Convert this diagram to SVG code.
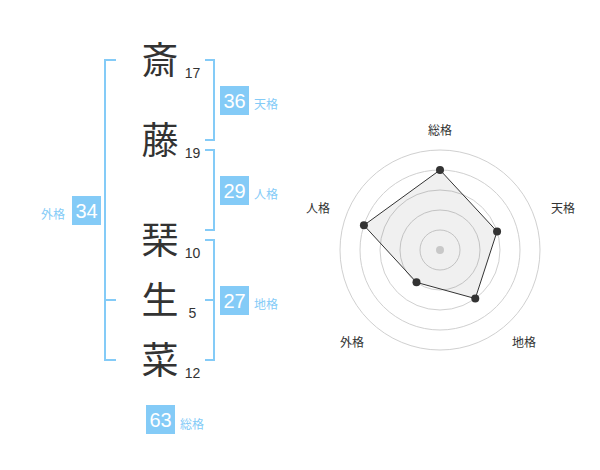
<svg xmlns="http://www.w3.org/2000/svg" width="600" height="470" viewBox="0 0 600 470">
<style>
.ch{font-family:"Noto Sans CJK JP","Noto Sans CJK SC",sans-serif;font-size:37px;fill:#333;text-anchor:middle}
.num{font-family:"Liberation Sans",Arial,sans-serif;font-size:14px;fill:#333;text-anchor:middle}
.box{fill:#84cbf7}
.bn{font-family:"Liberation Sans",Arial,sans-serif;font-size:20px;fill:#fff;text-anchor:middle}
.lb{font-family:"Noto Sans CJK JP","Noto Sans CJK SC",sans-serif;font-size:12px;fill:#84cbf7}
.br{fill:none;stroke:#84cbf7;stroke-width:2}
.rl{font-family:"Noto Sans CJK JP","Noto Sans CJK SC",sans-serif;font-size:12px;fill:#333;text-anchor:middle}
.ring{fill:none;stroke:#d0d0d0;stroke-width:1}
.pt{fill:#333}
</style>
<g id="chars">
<g id="c1"><text class="ch" x="160" y="74">斎</text><text class="num" x="192.5" y="78">17</text></g>
<g id="c2"><text class="ch" x="160" y="154">藤</text><text class="num" x="192.5" y="158">19</text></g>
<g id="c3"><text class="ch" x="160" y="254">琹</text><text class="num" x="192.5" y="258">10</text></g>
<g id="c4"><text class="ch" x="160" y="314">生</text><text class="num" x="192.5" y="318">5</text></g>
<g id="c5"><text class="ch" x="160" y="374">菜</text><text class="num" x="192.5" y="378">12</text></g>
</g>
<g id="connectors">
<path class="br" d="M116,60 H105 V360 H116 M105,300 H116"/>
<path class="br" d="M205,60 H214 V140 H205"/>
<path class="br" d="M205,150 H214 V230 H205"/>
<path class="br" d="M205,240 H214 V360 H205 M205,300 H214"/>
</g>
<g id="gaikaku"><rect class="box" x="72" y="196" width="29" height="29"/><text class="bn" x="86.5" y="217.5">34</text><text class="lb" x="41" y="218.5">外格</text></g>
<g id="tenkaku"><rect class="box" x="220" y="86" width="29" height="29"/><text class="bn" x="234.5" y="107.5">36</text><text class="lb" x="254" y="108.5">天格</text></g>
<g id="jinkaku"><rect class="box" x="220" y="176" width="29" height="29"/><text class="bn" x="234.5" y="197.5">29</text><text class="lb" x="254" y="198.5">人格</text></g>
<g id="chikaku"><rect class="box" x="220" y="286" width="29" height="29"/><text class="bn" x="234.5" y="307.5">27</text><text class="lb" x="254" y="308.5">地格</text></g>
<g id="soukaku"><rect class="box" x="146" y="405" width="29" height="29"/><text class="bn" x="160.5" y="426.5">63</text><text class="lb" x="180" y="428.5">総格</text></g>
<g id="radar">
<circle class="ring" cx="440" cy="250" r="20"/>
<circle class="ring" cx="440" cy="250" r="40"/>
<circle class="ring" cx="440" cy="250" r="60"/>
<circle class="ring" cx="440" cy="250" r="80"/>
<circle class="ring" cx="440" cy="250" r="100"/>
<polygon points="440,170 497.06,231.46 475.27,298.54 416.49,282.36 363.92,225.28" fill="#000" fill-opacity="0.06" stroke="#333" stroke-width="1"/>
<circle cx="440" cy="250" r="4" fill="#c8c8c8"/>
<circle class="pt" cx="440" cy="170" r="4"/>
<circle class="pt" cx="497.06" cy="231.46" r="4"/>
<circle class="pt" cx="475.27" cy="298.54" r="4"/>
<circle class="pt" cx="416.49" cy="282.36" r="4"/>
<circle class="pt" cx="363.92" cy="225.28" r="4"/>
<text class="rl" x="440" y="135">総格</text>
<text class="rl" x="563" y="213">天格</text>
<text class="rl" x="524" y="347">地格</text>
<text class="rl" x="352" y="347">外格</text>
<text class="rl" x="318" y="213">人格</text>
</g>
</svg>
